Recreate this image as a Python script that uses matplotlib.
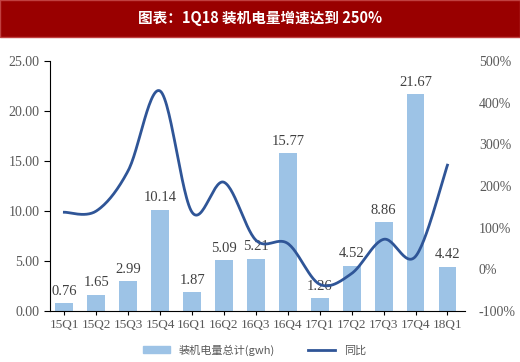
import numpy as np
import matplotlib
matplotlib.use("Agg")
import matplotlib.pyplot as plt
from matplotlib.patches import Rectangle
from matplotlib.lines import Line2D

plt.rcParams['font.family'] = ['Liberation Serif', 'Noto Sans CJK SC', 'DejaVu Sans']

quarters = ["15Q1", "15Q2", "15Q3", "15Q4", "16Q1", "16Q2", "16Q3",
            "16Q4", "17Q1", "17Q2", "17Q3", "17Q4", "18Q1"]
installed_gwh = [0.76, 1.65, 2.99, 10.14, 1.87, 5.09, 5.21,
                 15.77, 1.26, 4.52, 8.86, 21.67, 4.42]
yoy_pct = [137, 140, 237, 428, 137, 209, 70, 62, -36, -10, 72, 31, 250]

BAR_C = "#9dc3e6"
LINE_C = "#2f5597"
TXT_C = "#595959"


def smooth(xs, ys, n=30):
    # excel-like smoothed line: bezier segments with catmull-rom handles
    xs = np.asarray(xs, float)
    ys = np.asarray(ys, float)
    px = np.concatenate([[xs[0]], xs, [xs[-1]]])
    py = np.concatenate([[ys[0]], ys, [ys[-1]]])
    out_x, out_y = [], []
    t = np.linspace(0, 1, n)
    for i in range(1, len(px) - 2):
        p0 = np.array([px[i], py[i]])
        p1 = np.array([px[i + 1], py[i + 1]])
        c1 = p0 + (p1 - np.array([px[i - 1], py[i - 1]])) / 6
        c2 = p1 - (np.array([px[i + 2], py[i + 2]]) - p0) / 6
        b = ((1 - t) ** 3)[:, None] * p0 + (3 * (1 - t) ** 2 * t)[:, None] * c1 \
            + (3 * (1 - t) * t ** 2)[:, None] * c2 + (t ** 3)[:, None] * p1
        out_x.extend(b[:, 0])
        out_y.extend(b[:, 1])
    return out_x, out_y


fig = plt.figure(figsize=(5.2, 3.62), dpi=100)

# title bar
fig.patches.append(Rectangle((0, 1 - 37 / 362), 1, 37 / 362, transform=fig.transFigure,
                             facecolor="#990000", edgecolor="#c04040", lw=1))
fig.text(0.5, 1 - 18 / 362, "图表：1Q18 装机电量增速达到 250%", color="white",
         fontsize=10.5, fontweight="bold", ha="center", va="center",
         family=["Noto Sans CJK SC", "DejaVu Sans"])

ax = fig.add_axes([50 / 520, 51 / 362, 415 / 520, 250 / 362])
x = np.arange(len(quarters))
ax.bar(x, installed_gwh, 0.56, color=BAR_C, zorder=2)
for xi, v in zip(x, installed_gwh):
    ax.annotate(f"{v:.2f}", (xi, v), xytext=(0, 4), textcoords="offset points",
                ha="center", va="bottom", fontsize=10.5, color="#404040")
ax.set_xlim(-0.45, 12.55)
ax.set_ylim(0, 25)
ax.set_yticks(np.arange(0, 26, 5))
ax.set_yticklabels([f"{v:.2f}" for v in np.arange(0, 26, 5)])
ax.set_xticks(x)
ax.set_xticklabels(quarters)
ax.tick_params(axis="y", labelsize=10, colors=TXT_C, length=4, direction="out")
ax.tick_params(axis="x", labelsize=9.5, colors=TXT_C, length=3, direction="out", pad=3)
ax.tick_params(axis="both", color="black")
for s in ["top", "right"]:
    ax.spines[s].set_visible(False)
ax.spines["left"].set_color("black")
ax.spines["bottom"].set_color("black")

ax2 = ax.twinx()
sx, sy = smooth(x, yoy_pct)
ax2.plot(sx, sy, color=LINE_C, lw=2, zorder=3)
ax2.set_ylim(-100, 500)
ax2.set_yticks(np.arange(-100, 501, 100))
ax2.set_yticklabels([f"{v}%" for v in np.arange(-100, 501, 100)])
ax2.tick_params(axis="y", labelsize=10, colors=TXT_C, length=0, pad=10)
for s in ["top", "right", "left", "bottom"]:
    ax2.spines[s].set_visible(False)

handles = [Rectangle((0, 0), 1, 1, color=BAR_C), Line2D([0], [0], color=LINE_C, lw=2)]
leg = fig.legend(handles, ["装机电量总计(gwh)", "同比"], loc="center",
                 bbox_to_anchor=(0.49, 1 - 350 / 362), ncol=2, frameon=False,
                 handlelength=2.4, handleheight=0.5, columnspacing=3,
                 prop={"family": ["Noto Sans CJK SC", "DejaVu Sans"], "size": 8})
for t in leg.get_texts():
    t.set_color(TXT_C)

fig.savefig("out.png", dpi=100)
